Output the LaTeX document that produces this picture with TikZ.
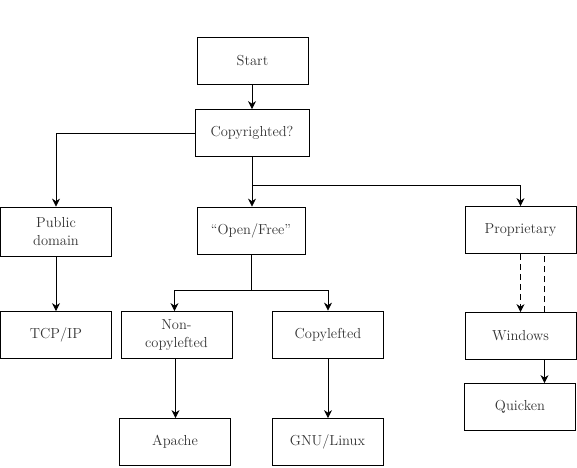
\documentclass[tikz,border=0pt]{standalone}
\usetikzlibrary{arrows.meta}

\tikzstyle{box} = [rectangle, minimum width=111pt, minimum height=47pt, text centered, draw=black, line width=0.8pt, align=center, text=black!80, font=\fontsize{14.5}{17.5}\selectfont]
\tikzstyle{arrow} = [line width=0.8pt,->,>={Stealth[length=8pt,width=8pt]}]
\tikzstyle{link} = [line width=0.8pt, dash pattern=on 6pt off 4pt]

\begin{document}
\begin{tikzpicture}[x=1pt, y=-1pt]
			
			\useasboundingbox (0,0) rectangle (577,467);
			
			\node (start) [box] at (252.5,60.5) {Start};
			\node (copyright) [box, minimum width=114pt] at (252,133) {Copyrighted?};
			\node (public) [box, minimum height=49pt] at (56,231.5) {
				Public \\
				domain
			};
			\node (open) [box, minimum width=108pt] at (251,230.5) {``Open/Free''};
			\node (proprietary) [box] at (520.5,230) {Proprietary};
			\node (tcpip) [box] at (56,335) {TCP/IP};
			\node (noncopy) [box] at (176.5,335) {
				Non- \\
				copylefted
			};
			\node (copyleft) [box] at (328,334.5) {Copylefted};
			\node (windows) [box] at (520.5,336) {Windows};
			\node (apache) [box] at (175,442) {Apache};
			\node (gnulinux) [box] at (327.5,442) {GNU/Linux};
			\node (quicken) [box] at (520,407) {Quicken};
			
			\coordinate (forkprop) at (252,185);
			\coordinate (forkopen) at (251,290);
			
			\draw [arrow] (copyright.north |- start.south) -- (copyright.north);
			\draw [arrow] (copyright.west) -| (public.north);
			\draw [arrow] (copyright.south) -- (copyright.south |- open.north);
			\draw [arrow] (forkprop) -| (proprietary.north);
			\draw [arrow] (public) -- (tcpip);
			\draw (open.south) -- (forkopen);
			\draw [arrow] (forkopen) -| ([xshift=-2pt]noncopy.north);
			\draw [arrow] (forkopen) -| (copyleft.north);
			\draw [arrow] ([xshift=-1pt]noncopy.south) -- ([xshift=-1pt]noncopy.south |- apache.north);
			\draw [arrow] (copyleft.south) -- (copyleft.south |- gnulinux.north);
			\draw [arrow, link] (proprietary) -- (windows);
			\draw [link] ([xshift=24pt]windows.north) -- ([xshift=24pt]proprietary.south);
			\draw [arrow] ([xshift=24pt]windows.south) -- ([xshift=24pt]windows.south |- quicken.north);
			
		\end{tikzpicture}
\end{document}
